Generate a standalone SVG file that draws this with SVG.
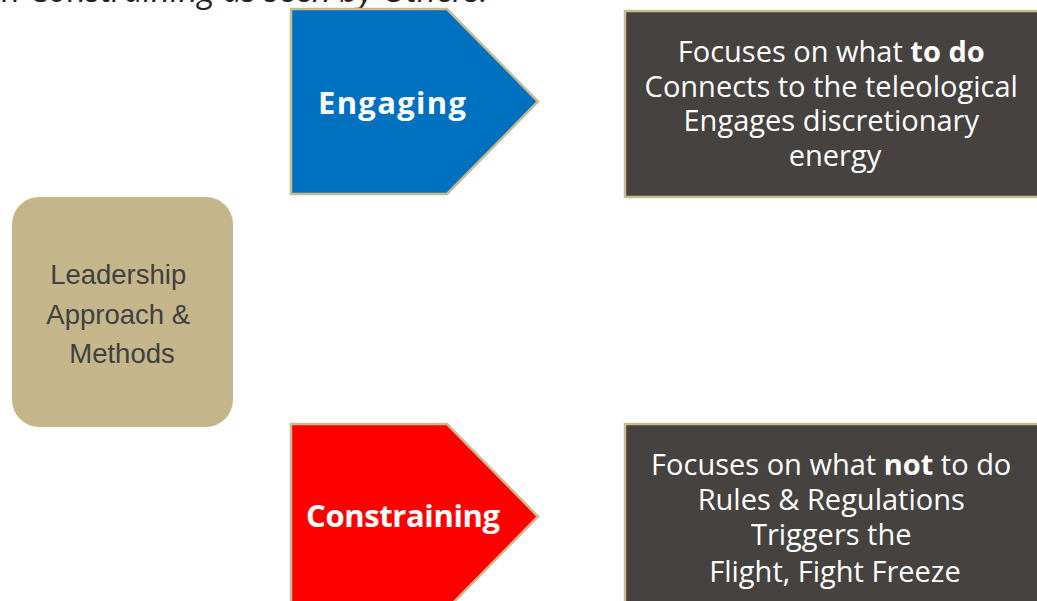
<svg xmlns="http://www.w3.org/2000/svg" width="1037" height="601" viewBox="0 0 1037 601">
  <style>
    .caption { font-family: "Open Sans", "Liberation Sans", sans-serif; font-style: italic; font-size: 33px; fill: #222222; }
    .arrow { stroke: #C9BB90; stroke-width: 2.5; }
    .arrow-label { font-family: "Open Sans", Lato, sans-serif; font-weight: bold; font-size: 31px; fill: #FFFFFF; }
    .panel { fill: #454240; stroke: #C9BB90; stroke-width: 2.5; }
    .panel-text { font-family: "Open Sans", Lato, sans-serif; font-size: 29px; fill: #FFFFFF; }
    .hub { fill: #C4B68A; }
    .hub-text { font-family: "Liberation Sans", Arial, sans-serif; font-size: 27.5px; fill: #404040; }
  </style>

  <rect width="1037" height="601" fill="#FFFFFF"/>

  <!-- heading line, mostly above the top edge -->
  <text class="caption" x="488" y="2" text-anchor="end">n Constraining as seen by Others.</text>

  <g id="connectors"></g>

  <!-- central hub -->
  <g id="leadership">
    <rect class="hub" x="12" y="197" width="221" height="230" rx="27" ry="27"/>
    <text class="hub-text" text-anchor="middle">
      <tspan x="122" y="284">Leadership</tspan>
      <tspan x="122" y="324">Approach &amp;</tspan>
      <tspan x="122" y="363">Methods</tspan>
    </text>
  </g>

  <!-- engaging branch -->
  <g id="engaging">
    <polygon class="arrow" fill="#0070C0" points="291,9 447,9 538,101.5 447,194 291,194"/>
    <text class="arrow-label" x="392" y="114" text-anchor="middle" textLength="148" lengthAdjust="spacing">Engaging</text>
  </g>

  <g id="engaging-notes">
    <rect class="panel" x="625" y="11" width="420" height="186"/>
    <text class="panel-text" text-anchor="middle">
      <tspan x="835" y="62">Focuses on what <tspan font-weight="bold">to do</tspan></tspan>
      <tspan x="835" y="97">Connects to the teleological</tspan>
      <tspan x="835" y="131">Engages discretionary</tspan>
      <tspan x="835" y="166">energy</tspan>
    </text>
  </g>

  <!-- constraining branch -->
  <g id="constraining">
    <polygon class="arrow" fill="#FF0000" points="291,424 447,424 538,516.5 447,609 291,609"/>
    <text class="arrow-label" x="403" y="527" text-anchor="middle" textLength="194" lengthAdjust="spacing">Constraining</text>
  </g>

  <g id="constraining-notes">
    <rect class="panel" x="625" y="424" width="420" height="186"/>
    <text class="panel-text" text-anchor="middle">
      <tspan x="835" y="475">Focuses on what <tspan font-weight="bold">not</tspan> to do</tspan>
      <tspan x="835" y="510">Rules &amp; Regulations</tspan>
      <tspan x="835" y="545">Triggers the</tspan>
      <tspan x="835" y="582">Flight, Fight Freeze</tspan>
    </text>
  </g>
</svg>
